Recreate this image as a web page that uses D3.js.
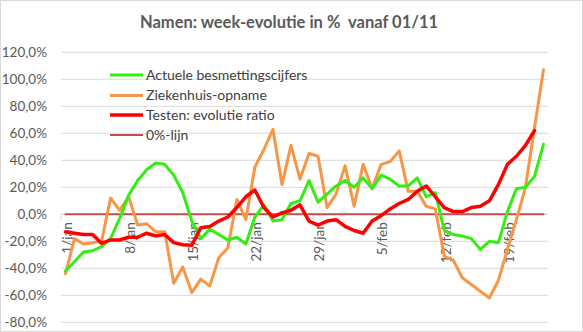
<!DOCTYPE html>
<html><head><meta charset="utf-8">
<script src="https://cdn.jsdelivr.net/npm/d3@7/dist/d3.min.js"></script>
<style>
html,body{margin:0;padding:0;background:#fff;}
svg{display:block;font-family:Lato,"Open Sans",sans-serif;}
</style></head>
<body>
<svg id="chart" width="583" height="332"></svg>
<script>
const title = "Namen: week-evolutie in %  vanaf 01/11";
const categories = [
 "1/jan","2/jan","3/jan","4/jan","5/jan","6/jan","7/jan","8/jan","9/jan","10/jan",
 "11/jan","12/jan","13/jan","14/jan","15/jan","16/jan","17/jan","18/jan","19/jan","20/jan",
 "21/jan","22/jan","23/jan","24/jan","25/jan","26/jan","27/jan","28/jan","29/jan","30/jan",
 "31/jan","1/feb","2/feb","3/feb","4/feb","5/feb","6/feb","7/feb","8/feb","9/feb",
 "10/feb","11/feb","12/feb","13/feb","14/feb","15/feb","16/feb","17/feb","18/feb","19/feb",
 "20/feb","21/feb","22/feb","23/feb"];
const tickLabels = ["1/jan","8/jan","15/jan","22/jan","29/jan","5/feb","12/feb","19/feb"];
const yTicks = [-80,-60,-40,-20,0,20,40,60,80,100,120];
const seriesNames = ["Actuele besmettingscijfers","Ziekenhuis-opname","Testen: evolutie ratio","0%-lijn"];
const besmettingen = [-42,-35,-28,-27,-24,-18,-3,14,25,33,
 38,37,29,16,-5,-18,-11,-15,-19,-17,
 -22,-2,7,-5,-4,8,10,25,9,15,
 21,25,20,27,19,29,26,21,21,27,
 13,16,-12,-15,-16,-18,-26,-20,-21,2,
 19,20,28,52];
const ziekenhuis = [-44,-18,-22,-21,-20,12,3,13,-8,-7,
 -13,-13,-51,-39,-58,-48,-53,-32,-25,11,
 -4,35,48,63,22,51,26,45,43,5,
 15,36,6,37,19,37,39,47,17,17,
 6,4,-31,-34,-47,-52,-57,-62,-49,-26,
 -4,20,64,107];
const testen = [-13,-14,-15,-15,-21.5,-19,-19,-17,-17,-14,
 -16,-15,-21,-22.5,-23,-10,-9,-5,-2,5,
 13,18,5,-2,1,3,7,-5,-8,-5,
 -4,-9,-12,-14,-5,-1,4,8,11,17,
 21,13,5,2,2,5,6,10,22,37,
 43,51,62,null];
const nullijn = categories.map(() => 0);

const colors = ["#33ee11","#f79646","#ff0000","#c0504d"];
const widths = [3,3,3.5,2];

const svg = d3.select("#chart");
const W = 583, H = 332;
const plot = {left:61, right:548, top:52.3, bottom:322.3};

svg.append("rect").attr("x",0.5).attr("y",0.5).attr("width",W-1).attr("height",H-1)
  .attr("fill","#fff").attr("stroke","#d9d9d9");

const x = d3.scalePoint().domain(categories).range([plot.left, plot.right]).padding(0.5);
const step = x.step();
const y = d3.scaleLinear().domain([-80,120]).range([plot.bottom, plot.top]);

const fmt = v => (v<0?"-":"") + Math.abs(v).toFixed(1).replace(".",",") + "%";

// gridlines
svg.append("g").selectAll("line").data(yTicks).join("line")
  .attr("x1",plot.left).attr("x2",plot.right)
  .attr("y1",d=>y(d)).attr("y2",d=>y(d))
  .attr("stroke","#d9d9d9").attr("stroke-width",1);

// y axis labels
const yAxis = d3.axisLeft(y).tickValues(yTicks).tickFormat(fmt).tickSize(0).tickPadding(0);
const gy = svg.append("g").attr("transform",`translate(47,0)`).call(yAxis);
gy.select(".domain").remove();
gy.selectAll("text").attr("fill","#595959").style("font-size","13.5px").style("font-family","Lato,sans-serif");

// x axis at 0
const gx = svg.append("g").attr("transform",`translate(0,${y(0)})`);
gx.append("line").attr("x1",plot.left).attr("x2",plot.right).attr("stroke","#d9d9d9");
const tickIdx = tickLabels.map(l => categories.indexOf(l));
gx.selectAll("line.tk").data(tickIdx).join("line").attr("class","tk")
  .attr("x1",i=>x(categories[i]) - step/2).attr("x2",i=>x(categories[i]) - step/2)
  .attr("y1",0).attr("y2",6).attr("stroke","#d9d9d9");
gx.selectAll("text").data(tickLabels).join("text")
  .attr("transform",d=>`translate(${x(d)+1.5},8) rotate(-90)`)
  .attr("text-anchor","end").attr("dy","0.35em")
  .attr("fill","#595959").style("font-size","13.5px")
  .text(d=>d);

// lines
const allSeries = [besmettingen, ziekenhuis, testen, nullijn];
const line = d3.line().defined(d=>d.v!==null).x(d=>x(d.c)).y(d=>y(d.v));
const order = [3,1,0,2];
order.forEach(k=>{
  const data = categories.map((c,i)=>({c, v:allSeries[k][i]}));
  svg.append("path").datum(data).attr("d",line)
    .attr("fill","none").attr("stroke",colors[k]).attr("stroke-width",widths[k])
    .attr("stroke-linejoin","round").attr("stroke-linecap","round");
});

// legend
const lg = svg.append("g");
const rowsY = [75,95.5,115,135];
seriesNames.forEach((n,i)=>{
  lg.append("line").attr("x1",110).attr("x2",143).attr("y1",rowsY[i]).attr("y2",rowsY[i])
    .attr("stroke",colors[i]).attr("stroke-width",widths[i]);
  lg.append("text").attr("x",146).attr("y",rowsY[i]).attr("dy","0.35em")
    .attr("fill","#404040").style("font-size","14px").text(n);
});

// title
svg.append("text").attr("x",289).attr("y",28).attr("text-anchor","middle")
  .attr("fill","#595959").style("font-size","16.5px").style("font-weight","bold")
  .style("white-space","pre").text(title);
</script>
</body></html>
